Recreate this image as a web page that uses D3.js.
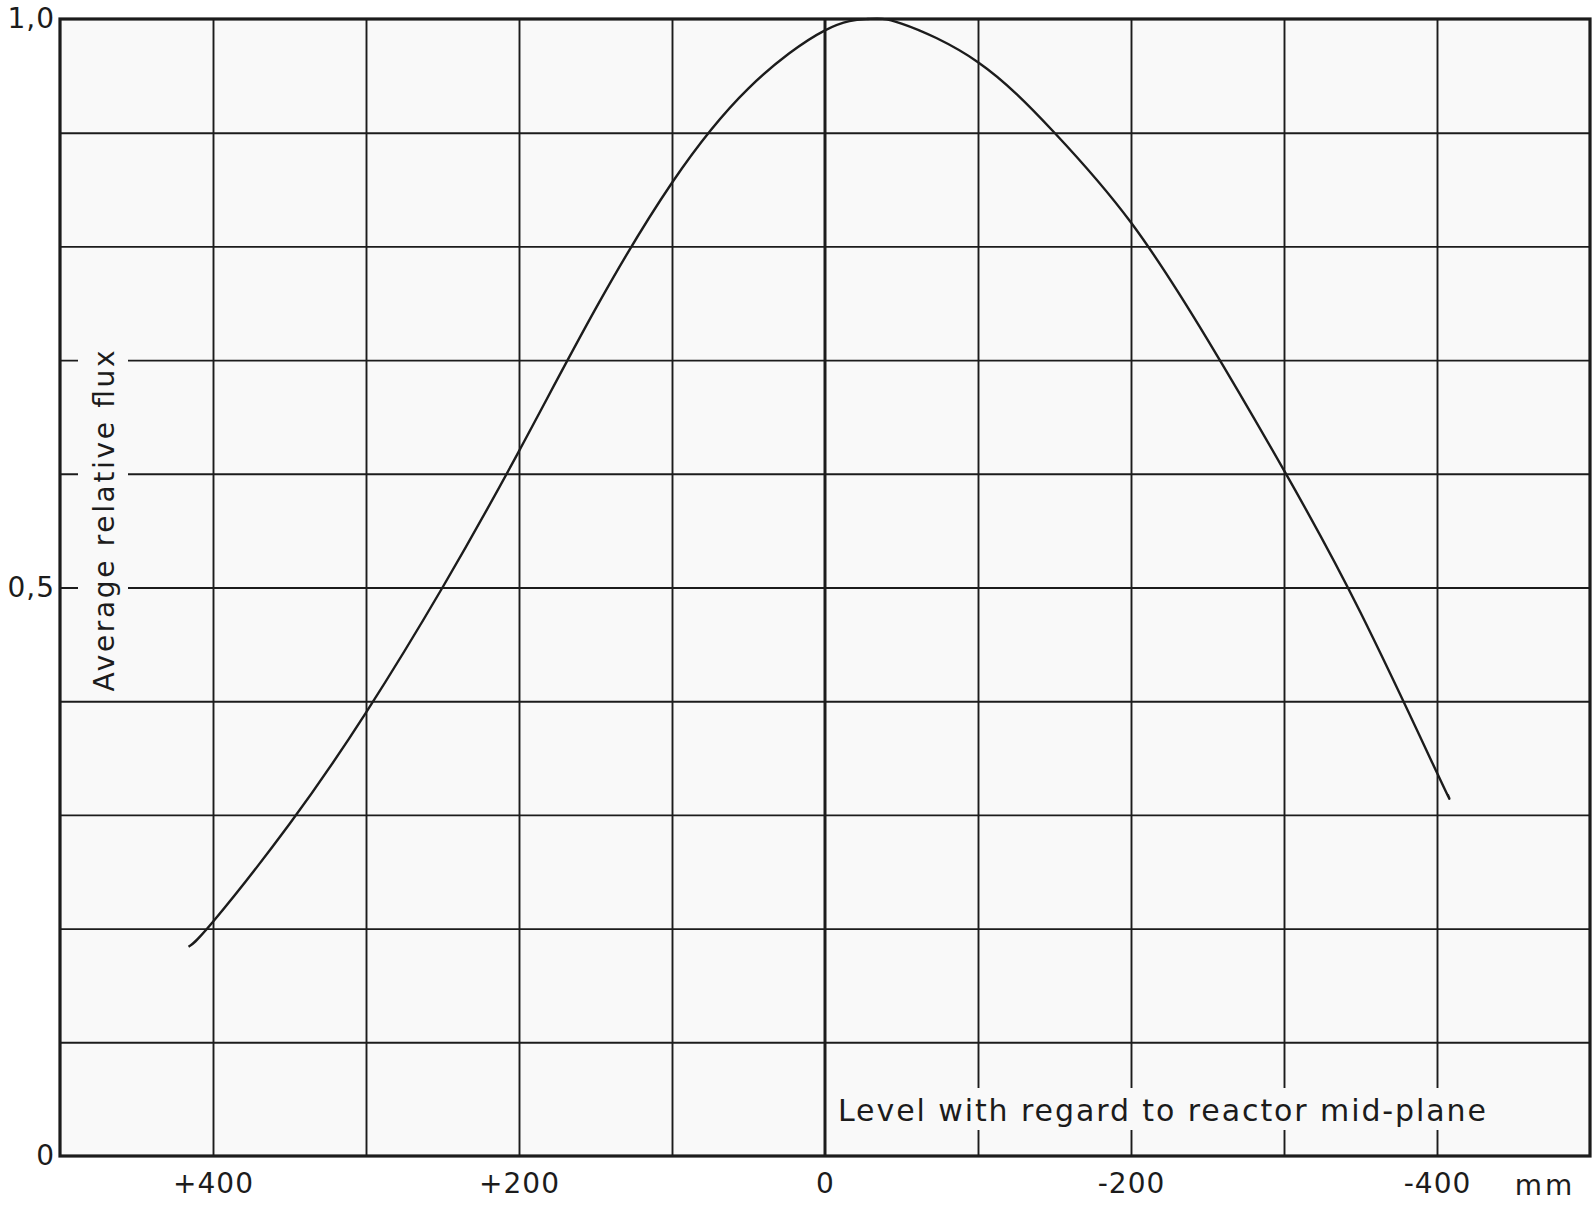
<!doctype html>
<html>
  <head>
    <meta charset="utf-8" />
    <title>Average relative flux</title>
    <style>
      body {
        margin: 0;
        background: #fff;
      }
      svg {
        display: block;
      }
      text {
        font-family: "DejaVu Sans", sans-serif;
        fill: #1c1c1c;
      }
    </style>
  </head>
  <body>
    <svg id="chart" width="1596" height="1205"></svg>
    <script src="https://d3js.org/d3.v7.min.js"></script>
    <script>
      // level with regard to reactor mid-plane (mm) and the flux
      const levels = [416, 400, 350, 300, 250, 200, 150, 100, 50, 0, -28, -50, -100, -150, -200, -250, -300, -350, -400, -407];
      const flux = [0.184, 0.206, 0.292, 0.39, 0.5, 0.62, 0.745, 0.856, 0.939, 0.99, 1.0, 0.996, 0.962, 0.9, 0.821, 0.718, 0.603, 0.478, 0.337, 0.318];

      const xTicks = [400, 200, 0, -200, -400];
      const xTickLabels = ["+400", "+200", "0", "-200", "-400"];
      const yTicks = [0, 0.5, 1];
      const yTickLabels = ["0", "0,5", "1,0"];
      const xGrid = [400, 300, 200, 100, -100, -200, -300, -400];
      const yGrid = [0.1, 0.2, 0.3, 0.4, 0.5, 0.6, 0.7, 0.8, 0.9];

      const ink = "#1c1c1c";
      const paper = "#f9f9f9";

      const svg = d3.select("#chart");
      const plotLeft = 60,
        plotRight = 1590,
        plotTop = 19,
        plotBottom = 1156;

      const x = d3.scaleLinear().domain([500, -500]).range([plotLeft, plotRight]);
      const y = d3.scaleLinear().domain([0, 1]).range([plotBottom, plotTop]);

      svg
        .append("rect")
        .attr("x", plotLeft)
        .attr("y", plotTop)
        .attr("width", plotRight - plotLeft)
        .attr("height", plotBottom - plotTop)
        .attr("fill", paper);

      // grid
      const gx = svg
        .append("g")
        .attr("transform", `translate(0,${plotBottom})`)
        .call(d3.axisBottom(x).tickValues(xGrid).tickSize(-(plotBottom - plotTop)).tickFormat(""));
      const gy = svg
        .append("g")
        .attr("transform", `translate(${plotLeft},0)`)
        .call(d3.axisLeft(y).tickValues(yGrid).tickSize(-(plotRight - plotLeft)).tickFormat(""));
      [gx, gy].forEach((g) => {
        g.select(".domain").remove();
        g.selectAll("line").attr("stroke", ink).attr("stroke-width", 1.9);
      });

      // gaps in the grid behind the lettering
      svg.append("rect").attr("x", 78).attr("y", 345).attr("width", 50).attr("height", 352).attr("fill", paper);
      svg.append("rect").attr("x", 834).attr("y", 1088).attr("width", 660).attr("height", 42).attr("fill", paper);

      // mid-plane line
      svg
        .append("line")
        .attr("x1", x(0))
        .attr("x2", x(0))
        .attr("y1", plotTop)
        .attr("y2", plotBottom)
        .attr("stroke", ink)
        .attr("stroke-width", 3);

      // frame
      svg
        .append("rect")
        .attr("x", plotLeft)
        .attr("y", plotTop)
        .attr("width", plotRight - plotLeft)
        .attr("height", plotBottom - plotTop)
        .attr("fill", "none")
        .attr("stroke", ink)
        .attr("stroke-width", 3.2);

      // curve
      const pts = levels.map((d, i) => [d, flux[i]]);
      const line = d3
        .line()
        .x((d) => x(d[0]))
        .y((d) => y(d[1]))
        .curve(d3.curveNatural);
      svg
        .append("path")
        .attr("d", line(pts))
        .attr("fill", "none")
        .attr("stroke", ink)
        .attr("stroke-width", 2.4);

      // tick labels
      const ax = svg
        .append("g")
        .attr("transform", `translate(0,${plotBottom})`)
        .call(
          d3
            .axisBottom(x)
            .tickValues(xTicks)
            .tickSize(0)
            .tickPadding(17)
            .tickFormat((d, i) => xTickLabels[i]),
        );
      const ay = svg
        .append("g")
        .attr("transform", `translate(${plotLeft},0)`)
        .call(
          d3
            .axisLeft(y)
            .tickValues(yTicks)
            .tickSize(0)
            .tickPadding(5)
            .tickFormat((d, i) => yTickLabels[i]),
        );
      [ax, ay].forEach((g) => {
        g.select(".domain").remove();
        g.selectAll("text")
          .attr("font-family", "DejaVu Sans, sans-serif")
          .attr("font-size", 28)
          .attr("fill", ink)
          .attr("letter-spacing", 1);
      });

      svg
        .append("text")
        .attr("x", x(-500) - 45)
        .attr("y", 1195)
        .attr("text-anchor", "middle")
        .attr("font-size", 28)
        .attr("letter-spacing", 3)
        .text("mm");

      svg
        .append("text")
        .attr("transform", `translate(114,521) rotate(-90)`)
        .attr("text-anchor", "middle")
        .attr("font-size", 28)
        .attr("textLength", 341)
        .attr("lengthAdjust", "spacing")
        .text("Average relative flux");

      svg
        .append("text")
        .attr("x", 838)
        .attr("y", 1121)
        .attr("font-size", 30)
        .attr("textLength", 648)
        .attr("lengthAdjust", "spacing")
        .text("Level with regard to reactor mid-plane");
    </script>
  </body>
</html>
